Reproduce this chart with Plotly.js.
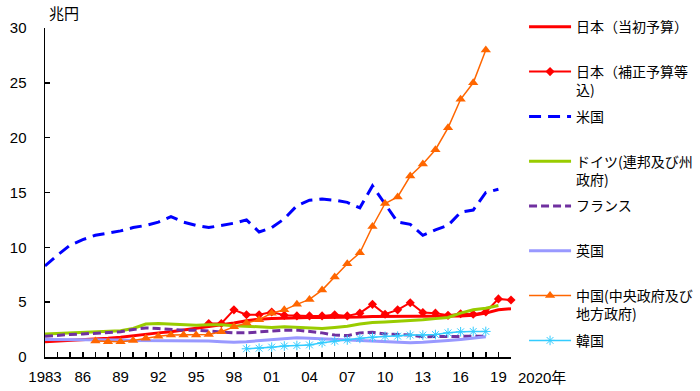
<!DOCTYPE html>
<html>
<head>
<meta charset="utf-8">
<script src="https://cdn.plot.ly/plotly-3.0.1.min.js"></script>
<style>html,body{margin:0;padding:0;background:#fff;}#chart{width:700px;height:391px;}</style>
</head>
<body>
<div id="chart"></div>
<script>
// Years
const years = [1983,1984,1985,1986,1987,1988,1989,1990,1991,1992,1993,1994,1995,1996,1997,1998,1999,2000,2001,2002,2003,2004,2005,2006,2007,2008,2009,2010,2011,2012,2013,2014,2015,2016,2017,2018,2019,2020];

// 日本(当初予算) 1983-2020
const japanInitial = [1.4,1.45,1.5,1.55,1.6,1.7,1.8,1.95,2.05,2.2,2.3,2.45,2.6,2.8,2.95,3.1,3.3,3.45,3.5,3.55,3.6,3.6,3.6,3.6,3.65,3.65,3.7,3.7,3.7,3.7,3.7,3.7,3.7,3.75,3.8,4.0,4.3,4.4];
// 日本(補正予算等込) 1996-2020
const jpSuppYears = years.slice(13);
const japanSupp = [3.05,3.05,4.3,3.85,3.85,4.1,3.8,3.75,3.75,3.75,3.85,3.75,4.0,4.8,3.9,4.3,4.95,4.05,4.0,3.8,3.95,3.9,4.1,5.3,5.2];
// 米国 1983-2019
const usYears = years.slice(0,37);
const us = [8.3,9.3,10.2,10.7,11.1,11.3,11.5,11.8,12.0,12.3,12.8,12.3,12.0,11.8,12.0,12.2,12.5,11.4,11.8,12.6,13.8,14.3,14.4,14.3,14.1,13.6,15.6,13.9,12.3,12.1,11.1,11.6,12.0,13.2,13.4,15.0,15.3];
// ドイツ(連邦及び州政府) 1983-2019
const germany = [2.1,2.15,2.2,2.25,2.25,2.3,2.4,2.6,3.0,3.05,3.0,2.9,2.9,2.95,2.95,2.85,2.8,2.75,2.7,2.75,2.7,2.65,2.6,2.7,2.8,3.0,3.15,3.2,3.25,3.3,3.4,3.5,3.6,4.0,4.3,4.45,4.7];
// フランス 1983-2018
const frYears = years.slice(0,36);
const france = [1.9,2.0,2.05,2.1,2.15,2.2,2.3,2.5,2.65,2.6,2.5,2.45,2.45,2.35,2.25,2.2,2.2,2.3,2.4,2.45,2.45,2.35,2.2,2.0,1.95,2.2,2.25,2.1,2.05,2.0,1.85,1.85,1.85,1.85,1.9,1.9];
// 英国 1983-2018
const uk = [1.6,1.6,1.6,1.6,1.55,1.55,1.55,1.5,1.5,1.5,1.5,1.45,1.45,1.45,1.4,1.35,1.4,1.5,1.6,1.7,1.75,1.7,1.65,1.6,1.6,1.55,1.5,1.45,1.35,1.3,1.35,1.4,1.5,1.6,1.7,1.85];
// 中国(中央政府及び地方政府) 1987-2018
const cnYears = years.slice(4,36);
const china = [1.45,1.4,1.4,1.5,1.7,1.9,2.0,2.0,2.0,2.05,2.3,2.75,3.1,3.4,4.0,4.3,4.8,5.25,6.1,7.3,8.5,9.5,11.9,14.0,14.6,16.5,17.6,18.9,20.9,23.5,25.0,28.0];
// 韓国 1999-2018
const krYears = years.slice(16,36);
const korea = [0.75,0.8,0.9,1.0,1.05,1.1,1.3,1.45,1.55,1.7,1.8,1.88,1.9,2.0,2.0,2.05,2.2,2.3,2.33,2.33];

// Axis tick labels
const tickYears = [1983,1986,1989,1992,1995,1998,2001,2004,2007,2010,2013,2016,2019];
const tickLabels = ['1983','86','89','92','95','98','01','04','07','10','13','16','19'];

const F = 'Liberation Sans, "Noto Sans CJK JP", sans-serif';
const FJ = '"Noto Sans CJK JP", sans-serif';
const blank = '<br>&nbsp;';

const traces = [
  {x: years, y: japanInitial, name: '日本（当初予算）' + blank, mode: 'lines',
   line: {color: '#FF0000', width: 3}},
  {x: jpSuppYears, y: japanSupp, name: '日本（補正予算等<br>込)', mode: 'lines+markers',
   line: {color: '#FF0000', width: 2}, marker: {symbol: 'diamond', size: 7, color: '#FF0000'}},
  {x: usYears, y: us, name: '米国' + blank, mode: 'lines',
   line: {color: '#0000FF', width: 3, dash: '12px,7px'}},
  {x: usYears, y: germany, name: 'ドイツ(連邦及び州<br>政府)', mode: 'lines',
   line: {color: '#99CC00', width: 3}},
  {x: frYears, y: france, name: 'フランス' + blank, mode: 'lines',
   line: {color: '#7030A0', width: 3, dash: '8px,4px'}},
  {x: frYears, y: uk, name: '英国' + blank, mode: 'lines',
   line: {color: '#9999FF', width: 3}},
  {x: cnYears, y: china, name: '中国(中央政府及び<br>地方政府)', mode: 'lines+markers',
   line: {color: '#FF6600', width: 1.5}, marker: {symbol: 'triangle-up', size: 9, color: '#FF6600'}},
  {x: krYears, y: korea, name: '韓国', mode: 'lines+markers',
   line: {color: '#33CCFF', width: 1.5}, marker: {symbol: 'asterisk-open', size: 8, color: '#33CCFF', line: {color: '#33CCFF', width: 1}}}
];
traces.forEach((t, i) => { t.cliponaxis = false; t.legendgroup = 'g' + i; });

const layout = {
  width: 700, height: 391,
  margin: {l: 45, r: 189, t: 28, b: 34, autoexpand: false},
  paper_bgcolor: '#ffffff', plot_bgcolor: '#ffffff',
  font: {family: F, size: 15, color: '#000'},
  showlegend: true,
  legend: {x: 1.028, xanchor: 'left', y: 1.051, yanchor: 'top', valign: 'top',
           font: {family: FJ, size: 14, color: '#000'}, tracegroupgap: 5.4, itemwidth: 42,
           maxheight: 391, bgcolor: 'rgba(0,0,0,0)'},
  xaxis: {range: [1983, 2020], showgrid: false, zeroline: false, showline: true, linecolor: '#000', linewidth: 1.5,
          tickmode: 'array', tickvals: tickYears, ticktext: tickLabels, ticks: 'inside', ticklen: 5, tickwidth: 1.5, tickcolor: '#000',
          minor: {dtick: 1, tick0: 1983, ticks: 'inside', ticklen: 5, tickwidth: 1.5, tickcolor: '#000'},
          ticklabelstandoff: 5, tickfont: {family: F, size: 15, color: '#000'}},
  yaxis: {range: [0, 30], dtick: 5, showgrid: false, zeroline: false, showline: true, linecolor: '#000', linewidth: 1.5,
          ticks: 'inside', ticklen: 5, tickwidth: 1.5, tickcolor: '#000', ticklabelstandoff: 14,
          tickfont: {family: F, size: 15, color: '#000'}},
  annotations: [
    {text: '兆円', xref: 'paper', yref: 'paper', x: 0.005, y: 1.0, xanchor: 'left', yanchor: 'bottom', yshift: 3, showarrow: false,
     font: {family: FJ, size: 15, color: '#000'}},
    {text: '2020年', xref: 'paper', yref: 'paper', x: 1.0665, xanchor: 'center', y: 0, yanchor: 'top', yshift: -10, showarrow: false,
     font: {family: F, size: 15, color: '#000'}}
  ]
};

Plotly.newPlot('chart', traces, layout, {displayModeBar: false, staticPlot: true});
</script>
</body>
</html>
